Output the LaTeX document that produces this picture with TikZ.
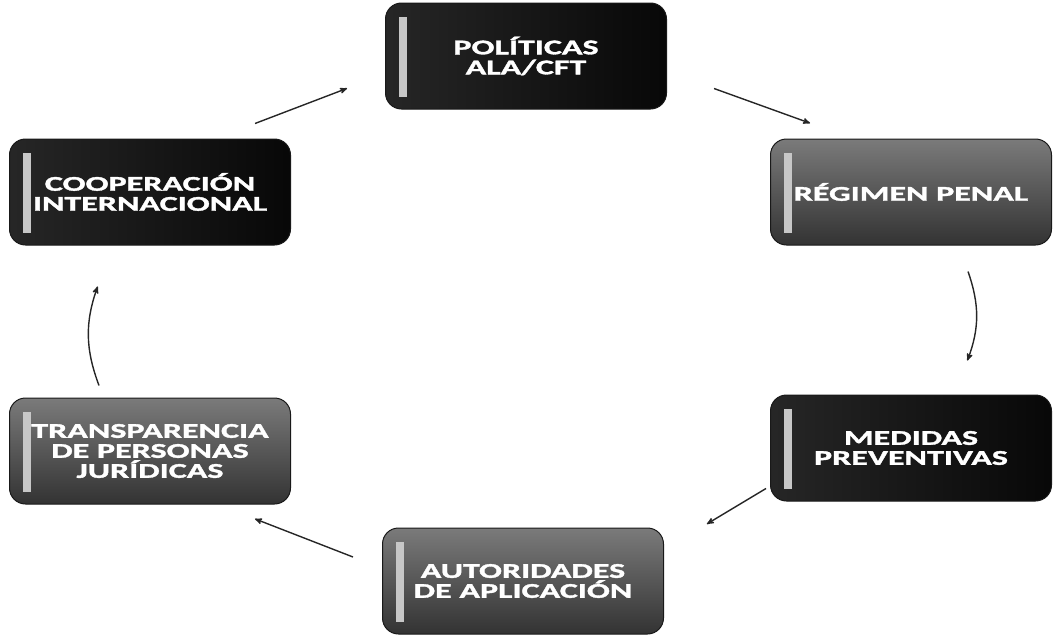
\documentclass[tikz,border=0pt]{standalone}
\usepackage{fontspec}
\newfontfamily\boxfont[FakeStretch=1.62,FakeBold=1.6]{Carlito}
\usetikzlibrary{arrows,positioning}

\begin{document}
\begin{tikzpicture}[x=1pt,y=1pt,->,>=stealth',shorten >=1pt,on grid,
	semithick]
	\tikzstyle{cycbox}=[rectangle,rounded corners=16pt,draw=black!90,line width=1pt,
		minimum width=281pt,minimum height=106pt,align=center,text=white,
		font=\boxfont\bfseries\fontsize{21}{20}\selectfont,
		path picture={\fill[black!22,draw=none,sharp corners] ([xshift=13pt,yshift=12pt]path picture bounding box.south west)
			rectangle ([xshift=21pt,yshift=-14pt]path picture bounding box.north west);}]
	\tikzstyle{darkbox}=[cycbox,left color=black!85,right color=black!97]
	\tikzstyle{graybox}=[cycbox,top color=black!52,bottom color=black!80]
	\tikzstyle{cyc}=[black!85,line width=1.4pt]
	
	\useasboundingbox (0,0) rectangle (1053,-637);
	
	\node[darkbox] (pol) at (526,-56) {POLÍTICAS\\ALA/CFT};
	\node[graybox] (reg) [below right=136pt and 385pt of pol] {RÉGIMEN PENAL};
	\node[darkbox] (med) [below=256pt of reg] {MEDIDAS\\PREVENTIVAS};
	\node[graybox] (aut) [below left=133pt and 388pt of med] {AUTORIDADES\\DE APLICACIÓN};
	\node[graybox] (tra) [above left=130pt and 373pt of aut] {TRANSPARENCIA\\DE PERSONAS\\JURÍDICAS};
	\node[darkbox] (coo) [above=259pt of tra] {COOPERACIÓN\\INTERNACIONAL};
	
	\path[cyc] ([xshift=47pt,yshift=21pt]pol.south east) edge ([xshift=41pt,yshift=15pt]reg.north west);
	\path[cyc] ([xshift=57pt,yshift=-26pt]reg.south) edge [bend left=20] ([xshift=56pt,yshift=33pt]med.north);
	\path[cyc] ([xshift=-4pt,yshift=13pt]med.south west) edge ([xshift=42pt,yshift=3pt]aut.north east);
	\path[cyc] ([xshift=-29pt,yshift=24pt]aut.west) edge ([xshift=-37pt,yshift=-14pt]tra.south east);
	\path[cyc] ([xshift=-51pt,yshift=12pt]tra.north) edge [bend left=20] ([xshift=-52pt,yshift=-40pt]coo.south);
	\path[cyc] ([xshift=-36pt,yshift=15pt]coo.north east) edge ([xshift=-37pt,yshift=-32pt]pol.west);
	
\end{tikzpicture}
\end{document}
